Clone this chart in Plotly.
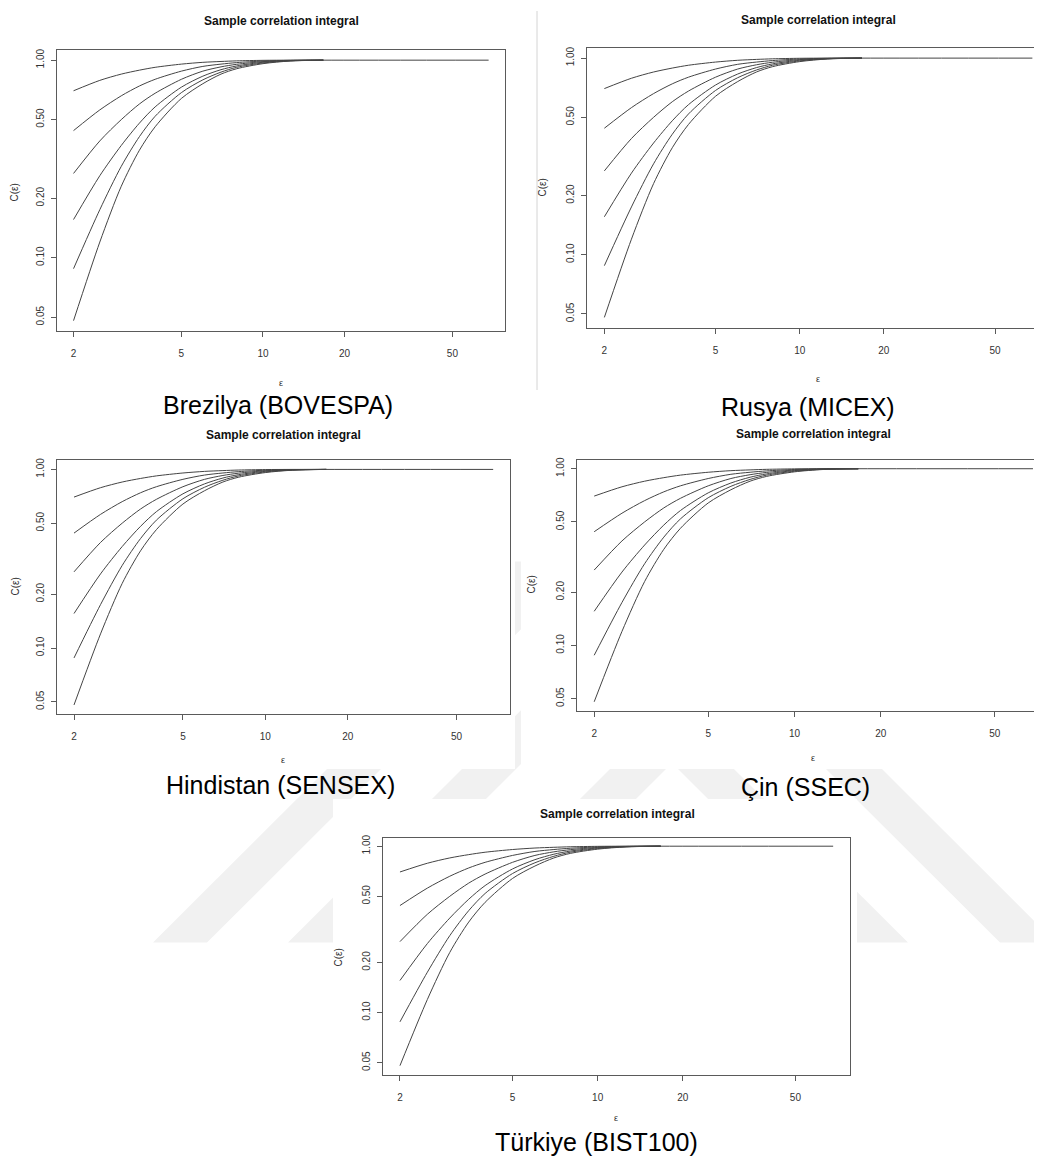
import plotly.graph_objects as go

# ---------------- data ----------------
CAPTIONS = ["Brezilya (BOVESPA)", "Rusya (MICEX)", "Hindistan (SENSEX)",
            "Çin (SSEC)", "Türkiye (BIST100)"]
PLOT_TITLE = "Sample correlation integral"
X_LABEL = "ε"
Y_LABEL = "C(ε)"

# radius values (epsilon) at which curves were read
EPS = [2, 2.5, 3, 3.5, 4, 5, 6, 7, 8, 10, 12.6, 16.7]
EPS_LAST = 68  # the top curve continues flat at 1.0 up to here

# correlation sums for embedding dimensions m = 2..7 (all five panels look identical)
C_M2 = [0.700, 0.790, 0.850, 0.890, 0.920, 0.955, 0.975, 0.985, 0.992, 0.998, 1.000, 1.000]
C_M3 = [0.440, 0.560, 0.660, 0.740, 0.800, 0.880, 0.930, 0.955, 0.972, 0.990, 0.998, 1.000]
C_M4 = [0.267, 0.390, 0.500, 0.600, 0.680, 0.800, 0.880, 0.925, 0.953, 0.983, 0.996, 1.000]
C_M5 = [0.156, 0.260, 0.370, 0.480, 0.580, 0.730, 0.830, 0.895, 0.935, 0.976, 0.994, 1.000]
C_M6 = [0.088, 0.175, 0.290, 0.410, 0.520, 0.685, 0.795, 0.870, 0.920, 0.968, 0.992, 1.000]
C_M7 = [0.048, 0.120, 0.230, 0.350, 0.460, 0.640, 0.760, 0.850, 0.905, 0.960, 0.990, 1.000]

X_TICKS = [2, 5, 10, 20, 50]
X_TICK_LABELS = ["2", "5", "10", "20", "50"]
Y_TICKS = [0.05, 0.10, 0.20, 0.50, 1.00]
Y_TICK_LABELS = ["0.05", "0.10", "0.20", "0.50", "1.00"]

# ---------------- layout helpers ----------------
# the page body has an 8px margin, so the figure is 8px smaller and
# page-pixel positions are shifted by that offset
OFF = 8
W, H = 1042 - OFF, 1162 - OFF
def px(x):
    return (x - OFF) / W
def py(y):
    return 1 - (y - OFF) / H

FONT = "Liberation Sans, Arial, sans-serif"
AX_COL = "#5a5a5a"
LINE_COL = "#444444"

# panel geometry in page pixels: box (x0, x1, y0, y1), x log-range end, mirror-right flag
PANELS = [
    dict(box=(57, 505, 47, 329), xr=1.893, right=True,
         title=(281, 18), xl=(281, 381), yl=(15, 190), cap=(278, 403)),
    dict(box=(587.3, 1042, 45, 325.7), xr=1.867, right=False,
         title=(818, 17), xl=(818, 377), yl=(543, 185), cap=(808, 405)),
    dict(box=(57.3, 510, 458.3, 713.3), xr=1.894, right=True,
         title=(283, 433), xl=(283, 759), yl=(15, 585), cap=(280, 784)),
    dict(box=(576.7, 1042, 457.7, 710), xr=1.864, right=False,
         title=(813, 432), xl=(813, 757), yl=(532, 583), cap=(805, 786)),
    dict(box=(382.7, 850, 836.7, 1074.3), xr=1.892, right=True,
         title=(617, 813), xl=(616, 1118), yl=(339, 957), cap=(596, 1142)),
]

curves = [C_M2, C_M3, C_M4, C_M5, C_M6, C_M7]

fig = go.Figure()
layout_axes = {}
annotations = []

for i, p in enumerate(PANELS, start=1):
    xa = "x" if i == 1 else f"x{i}"
    ya = "y" if i == 1 else f"y{i}"
    for k, c in enumerate(curves):
        xs = list(EPS)
        ys = list(c)
        if k == 0:
            xs = xs + [EPS_LAST]
            ys = ys + [1.0]
        fig.add_trace(go.Scatter(x=xs, y=ys, mode="lines", xaxis=xa, yaxis=ya,
                                 line=dict(color=LINE_COL, width=1, shape="spline", smoothing=0.8),
                                 showlegend=False, hoverinfo="skip"))
    x0, x1, y0, y1 = p["box"]
    common = dict(type="log", showline=True, linecolor=AX_COL, linewidth=1,
                  ticks="outside", ticklen=5, tickcolor=AX_COL, tickwidth=1,
                  showgrid=False, zeroline=False, fixedrange=True,
                  tickfont=dict(family=FONT, size=10, color="#333333"))
    layout_axes["xaxis" if i == 1 else f"xaxis{i}"] = dict(
        common, domain=[max(0.0, px(x0)), min(1.0, px(x1))], range=[0.24, p["xr"]],
        anchor=ya, mirror=True, tickvals=X_TICKS, ticktext=X_TICK_LABELS,
        ticklabelstandoff=8)
    layout_axes["yaxis" if i == 1 else f"yaxis{i}"] = dict(
        common, domain=[py(y1), py(y0)], range=[-1.372, 0.052],
        anchor=xa, mirror=p["right"], tickvals=Y_TICKS, ticktext=Y_TICK_LABELS,
        tickangle=-90, ticklabelstandoff=3)

    tx, ty = p["title"]
    annotations.append(dict(x=px(tx), y=py(ty), xref="paper", yref="paper",
                            text="<b>" + PLOT_TITLE + "</b>", showarrow=False,
                            xanchor="center", yanchor="middle",
                            font=dict(family=FONT, size=12, color="#111111")))
    lx, ly = p["xl"]
    annotations.append(dict(x=px(lx), y=py(ly), xref="paper", yref="paper",
                            text=X_LABEL, showarrow=False,
                            xanchor="center", yanchor="middle",
                            font=dict(family=FONT, size=9, color="#333333")))
    yx, yy = p["yl"]
    annotations.append(dict(x=px(yx), y=py(yy), xref="paper", yref="paper",
                            text=Y_LABEL, showarrow=False, textangle=-90,
                            xanchor="center", yanchor="middle",
                            font=dict(family=FONT, size=10, color="#333333")))
    cx, cy = p["cap"]
    annotations.append(dict(x=px(cx), y=py(cy), xref="paper", yref="paper",
                            text=CAPTIONS[i - 1], showarrow=False,
                            xanchor="center", yanchor="middle",
                            font=dict(family=FONT, size=25, color="#000000")))

# ---------------- page decorations: faint watermark + opaque image areas ----------------
def poly(points):
    return "M " + " L ".join(f"{px(x)},{py(y)}" for x, y in points) + " Z"

WM = "#f1f1f1"
shapes = []
# "/" stripes
for bx in (153, 288):
    shapes.append(dict(type="path", xref="paper", yref="paper", layer="below",
                       path=poly([(bx, 942), (bx + 54, 942), (bx + 54 + 382, 560), (bx + 382, 560)]),
                       fillcolor=WM, line=dict(width=0)))
shapes.append(dict(type="path", xref="paper", yref="paper", layer="below",
                   path=poly([(436, 942), (492, 942), (874, 560), (818, 560)]),
                   fillcolor=WM, line=dict(width=0)))
# "\" stripes
for bx in (852, 1000):
    shapes.append(dict(type="path", xref="paper", yref="paper", layer="below",
                       path=poly([(bx, 942), (bx + 56, 942), (bx + 56 - 382, 560), (bx - 382, 560)]),
                       fillcolor=WM, line=dict(width=0)))
# white image backgrounds covering the watermark
for (x0, x1, y0, y1) in [(0, 515, 415, 768), (521, 1042, 415, 768), (333, 857, 798, 1130)]:
    shapes.append(dict(type="rect", xref="paper", yref="paper", layer="below",
                       x0=px(x0), x1=px(x1), y0=py(y1), y1=py(y0),
                       fillcolor="white", line=dict(width=0)))
# thin separator line between top panels
shapes.append(dict(type="line", xref="paper", yref="paper", layer="below",
                   x0=px(537), x1=px(537), y0=py(388), y1=1.0,
                   line=dict(color="#d4d4d4", width=1)))

fig.update_layout(
    width=W, height=H, autosize=False,
    margin=dict(l=0, r=0, t=0, b=0, pad=0),
    paper_bgcolor="white", plot_bgcolor="rgba(0,0,0,0)",
    annotations=annotations, shapes=shapes,
    **layout_axes,
)

fig.write_html("out.html")
